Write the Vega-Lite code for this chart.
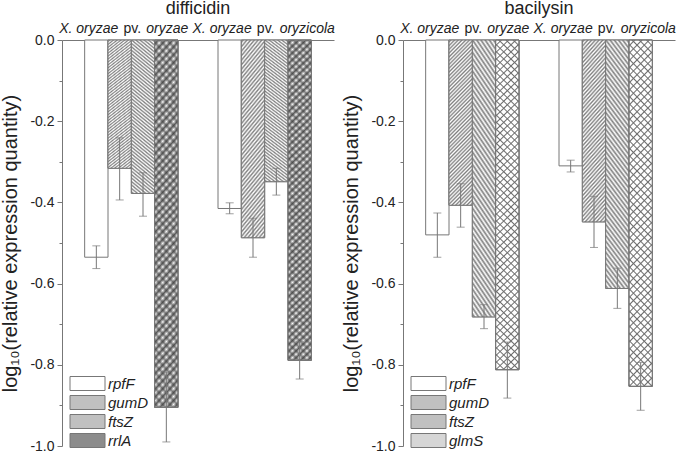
{
  "$schema": "https://vega.github.io/schema/vega-lite/v6.json",
  "background": "white",
  "padding": {"left": 0, "top": 0, "right": 5, "bottom": 0},
  "spacing": 6,
  "datasets": {
    "bars": [
      {"panel": "difficidin", "group": "oryzae", "gene": "rpfF", "value": -0.535, "lo": -0.507, "hi": -0.563},
      {"panel": "difficidin", "group": "oryzae", "gene": "gumD", "value": -0.316, "lo": -0.241, "hi": -0.394},
      {"panel": "difficidin", "group": "oryzae", "gene": "ftsZ", "value": -0.378, "lo": -0.327, "hi": -0.434},
      {"panel": "difficidin", "group": "oryzae", "gene": "rrlA", "value": -0.905, "lo": -0.818, "hi": -0.99},
      {"panel": "difficidin", "group": "oryzicola", "gene": "rpfF", "value": -0.415, "lo": -0.401, "hi": -0.428},
      {"panel": "difficidin", "group": "oryzicola", "gene": "gumD", "value": -0.487, "lo": -0.439, "hi": -0.535},
      {"panel": "difficidin", "group": "oryzicola", "gene": "ftsZ", "value": -0.349, "lo": -0.316, "hi": -0.382},
      {"panel": "difficidin", "group": "oryzicola", "gene": "rrlA", "value": -0.789, "lo": -0.742, "hi": -0.835},
      {"panel": "bacilysin", "group": "oryzae", "gene": "rpfF", "value": -0.48, "lo": -0.426, "hi": -0.535},
      {"panel": "bacilysin", "group": "oryzae", "gene": "gumD", "value": -0.407, "lo": -0.354, "hi": -0.461},
      {"panel": "bacilysin", "group": "oryzae", "gene": "ftsZ", "value": -0.682, "lo": -0.652, "hi": -0.711},
      {"panel": "bacilysin", "group": "oryzae", "gene": "glmS", "value": -0.812, "lo": -0.744, "hi": -0.882},
      {"panel": "bacilysin", "group": "oryzicola", "gene": "rpfF", "value": -0.31, "lo": -0.296, "hi": -0.325},
      {"panel": "bacilysin", "group": "oryzicola", "gene": "gumD", "value": -0.448, "lo": -0.385, "hi": -0.511},
      {"panel": "bacilysin", "group": "oryzicola", "gene": "ftsZ", "value": -0.612, "lo": -0.562, "hi": -0.661},
      {"panel": "bacilysin", "group": "oryzicola", "gene": "glmS", "value": -0.853, "lo": -0.794, "hi": -0.912}
    ],
    "labels": [
      {"group": "oryzae", "genus": "X. oryzae", "pv": "pv.", "species": "oryzae"},
      {"group": "oryzicola", "genus": "X. oryzae", "pv": "pv.", "species": "oryzicola"}
    ]
  },
  "config": {
    "view": {"stroke": null},
    "font": "Liberation Sans",
    "axis": {"domainColor": "#777", "tickColor": "#777", "labelColor": "#222", "titleColor": "#222", "labelFont": "Liberation Sans", "titleFont": "Liberation Sans"},
    "title": {"font": "Liberation Sans", "fontWeight": "normal", "fontSize": 18, "color": "#222", "offset": 0}
  },
  "resolve": {"scale": {"fill": "independent", "y": "independent", "x": "independent", "xOffset": "independent"}, "legend": {"fill": "independent"}},
  "hconcat": [
    {
      "title": "difficidin",
      "width": 272,
      "height": 406,
      "data": {"name": "bars"},
      "transform": [{"filter": "datum.panel === 'difficidin'"}],
      "encoding": {
        "x": {"field": "group", "type": "nominal", "sort": ["oryzae", "oryzicola"], "scale": {"paddingInner": 0.3, "paddingOuter": 0.17},
          "axis": {"orient": "top", "labels": false, "ticks": false, "title": null}},
        "xOffset": {"field": "gene", "type": "nominal", "sort": ["rpfF", "gumD", "ftsZ", "rrlA"], "scale": {"paddingInner": 0, "paddingOuter": 0}}
      },
      "layer": [
        {
          "mark": {"type": "bar", "stroke": "#777", "strokeWidth": 1},
          "encoding": {
            "y": {"field": "value", "type": "quantitative", "scale": {"domain": [-1, 0], "nice": false, "zero": false},
              "axis": {"values": [-1, -0.9, -0.8, -0.7, -0.6, -0.5, -0.4, -0.3, -0.2, -0.1, 0], "grid": false,
                "labelExpr": "abs(round(datum.value*10)) % 2 === 0 ? replace(format(datum.value, '.1f'), '\u2212', '-') : ''",
                "tickSize": {"condition": {"test": "abs(round(datum.value*10)) % 2 === 0", "value": 5}, "value": 3},
                "labelFontSize": 14, "labelPadding": 3, "title": "log\u2081\u2080(relative expression quantity)", "titleFontSize": 20, "titleFontWeight": "normal", "titlePadding": 9}},
            "fill": {"field": "gene", "type": "nominal", "scale": {"domain": ["rpfF", "gumD", "ftsZ", "rrlA"], "range": ["#ffffff", "#c0c0c0", "#c0c0c0", "#8c8c8c"]},
              "legend": {"orient": "none", "legendX": 18, "legendY": 336, "padding": 0, "title": null, "symbolType": "M-2.5,-1H2.5V1H-2.5Z", "symbolSize": 196, "symbolStrokeColor": "#777", "symbolStrokeWidth": 1, "labelFontStyle": "italic", "labelFontSize": 15, "labelColor": "#222", "labelOffset": 13, "rowPadding": 0}}
          }
        },
        {
          "transform": [{"filter": "datum.gene === 'gumD'"}],
          "mark": {"type": "bar", "stroke": "#777", "strokeWidth": 1, "fill": {"gradient": "linear", "x1": 0, "y1": 0, "x2": 0.16, "y2": 1.12, "stops": [{"offset":0,"color":"#ffffff"},{"offset":0.01,"color":"#808080"},{"offset":0.02,"color":"#ffffff"},{"offset":0.03,"color":"#808080"},{"offset":0.04,"color":"#ffffff"},{"offset":0.05,"color":"#808080"},{"offset":0.06,"color":"#ffffff"},{"offset":0.07,"color":"#808080"},{"offset":0.08,"color":"#ffffff"},{"offset":0.09,"color":"#808080"},{"offset":0.1,"color":"#ffffff"},{"offset":0.11,"color":"#808080"},{"offset":0.12,"color":"#ffffff"},{"offset":0.13,"color":"#808080"},{"offset":0.14,"color":"#ffffff"},{"offset":0.15,"color":"#808080"},{"offset":0.16,"color":"#ffffff"},{"offset":0.17,"color":"#808080"},{"offset":0.18,"color":"#ffffff"},{"offset":0.19,"color":"#808080"},{"offset":0.2,"color":"#ffffff"},{"offset":0.21,"color":"#808080"},{"offset":0.22,"color":"#ffffff"},{"offset":0.23,"color":"#808080"},{"offset":0.24,"color":"#ffffff"},{"offset":0.25,"color":"#808080"},{"offset":0.26,"color":"#ffffff"},{"offset":0.27,"color":"#808080"},{"offset":0.28,"color":"#ffffff"},{"offset":0.29,"color":"#808080"},{"offset":0.3,"color":"#ffffff"},{"offset":0.31,"color":"#808080"},{"offset":0.32,"color":"#ffffff"},{"offset":0.33,"color":"#808080"},{"offset":0.34,"color":"#ffffff"},{"offset":0.35,"color":"#808080"},{"offset":0.36,"color":"#ffffff"},{"offset":0.37,"color":"#808080"},{"offset":0.38,"color":"#ffffff"},{"offset":0.39,"color":"#808080"},{"offset":0.4,"color":"#ffffff"},{"offset":0.41,"color":"#808080"},{"offset":0.42,"color":"#ffffff"},{"offset":0.43,"color":"#808080"},{"offset":0.44,"color":"#ffffff"},{"offset":0.45,"color":"#808080"},{"offset":0.46,"color":"#ffffff"},{"offset":0.47,"color":"#808080"},{"offset":0.48,"color":"#ffffff"},{"offset":0.49,"color":"#808080"},{"offset":0.5,"color":"#ffffff"},{"offset":0.51,"color":"#808080"},{"offset":0.52,"color":"#ffffff"},{"offset":0.53,"color":"#808080"},{"offset":0.54,"color":"#ffffff"},{"offset":0.55,"color":"#808080"},{"offset":0.56,"color":"#ffffff"},{"offset":0.57,"color":"#808080"},{"offset":0.58,"color":"#ffffff"},{"offset":0.59,"color":"#808080"},{"offset":0.6,"color":"#ffffff"},{"offset":0.61,"color":"#808080"},{"offset":0.62,"color":"#ffffff"},{"offset":0.63,"color":"#808080"},{"offset":0.64,"color":"#ffffff"},{"offset":0.65,"color":"#808080"},{"offset":0.66,"color":"#ffffff"},{"offset":0.67,"color":"#808080"},{"offset":0.68,"color":"#ffffff"},{"offset":0.69,"color":"#808080"},{"offset":0.7,"color":"#ffffff"},{"offset":0.71,"color":"#808080"},{"offset":0.72,"color":"#ffffff"},{"offset":0.73,"color":"#808080"},{"offset":0.74,"color":"#ffffff"},{"offset":0.75,"color":"#808080"},{"offset":0.76,"color":"#ffffff"},{"offset":0.77,"color":"#808080"},{"offset":0.78,"color":"#ffffff"},{"offset":0.79,"color":"#808080"},{"offset":0.8,"color":"#ffffff"},{"offset":0.81,"color":"#808080"},{"offset":0.82,"color":"#ffffff"},{"offset":0.83,"color":"#808080"},{"offset":0.84,"color":"#ffffff"},{"offset":0.85,"color":"#808080"},{"offset":0.86,"color":"#ffffff"},{"offset":0.87,"color":"#808080"},{"offset":0.88,"color":"#ffffff"},{"offset":0.89,"color":"#808080"},{"offset":0.9,"color":"#ffffff"},{"offset":0.91,"color":"#808080"},{"offset":0.92,"color":"#ffffff"},{"offset":0.93,"color":"#808080"},{"offset":0.94,"color":"#ffffff"},{"offset":0.95,"color":"#808080"},{"offset":0.96,"color":"#ffffff"},{"offset":0.97,"color":"#808080"},{"offset":0.98,"color":"#ffffff"},{"offset":0.99,"color":"#808080"},{"offset":1,"color":"#ffffff"}]}},
          "encoding": {"y": {"field": "value", "type": "quantitative"}}
        },
        {
          "transform": [{"filter": "datum.gene === 'ftsZ'"}],
          "mark": {"type": "bar", "stroke": "#777", "strokeWidth": 1, "fill": {"gradient": "linear", "x1": 1, "y1": 0, "x2": 0.8615, "y2": 1.108, "stops": [{"offset":0,"color":"#ffffff"},{"offset":0.01,"color":"#808080"},{"offset":0.02,"color":"#ffffff"},{"offset":0.03,"color":"#808080"},{"offset":0.04,"color":"#ffffff"},{"offset":0.05,"color":"#808080"},{"offset":0.06,"color":"#ffffff"},{"offset":0.07,"color":"#808080"},{"offset":0.08,"color":"#ffffff"},{"offset":0.09,"color":"#808080"},{"offset":0.1,"color":"#ffffff"},{"offset":0.11,"color":"#808080"},{"offset":0.12,"color":"#ffffff"},{"offset":0.13,"color":"#808080"},{"offset":0.14,"color":"#ffffff"},{"offset":0.15,"color":"#808080"},{"offset":0.16,"color":"#ffffff"},{"offset":0.17,"color":"#808080"},{"offset":0.18,"color":"#ffffff"},{"offset":0.19,"color":"#808080"},{"offset":0.2,"color":"#ffffff"},{"offset":0.21,"color":"#808080"},{"offset":0.22,"color":"#ffffff"},{"offset":0.23,"color":"#808080"},{"offset":0.24,"color":"#ffffff"},{"offset":0.25,"color":"#808080"},{"offset":0.26,"color":"#ffffff"},{"offset":0.27,"color":"#808080"},{"offset":0.28,"color":"#ffffff"},{"offset":0.29,"color":"#808080"},{"offset":0.3,"color":"#ffffff"},{"offset":0.31,"color":"#808080"},{"offset":0.32,"color":"#ffffff"},{"offset":0.33,"color":"#808080"},{"offset":0.34,"color":"#ffffff"},{"offset":0.35,"color":"#808080"},{"offset":0.36,"color":"#ffffff"},{"offset":0.37,"color":"#808080"},{"offset":0.38,"color":"#ffffff"},{"offset":0.39,"color":"#808080"},{"offset":0.4,"color":"#ffffff"},{"offset":0.41,"color":"#808080"},{"offset":0.42,"color":"#ffffff"},{"offset":0.43,"color":"#808080"},{"offset":0.44,"color":"#ffffff"},{"offset":0.45,"color":"#808080"},{"offset":0.46,"color":"#ffffff"},{"offset":0.47,"color":"#808080"},{"offset":0.48,"color":"#ffffff"},{"offset":0.49,"color":"#808080"},{"offset":0.5,"color":"#ffffff"},{"offset":0.51,"color":"#808080"},{"offset":0.52,"color":"#ffffff"},{"offset":0.53,"color":"#808080"},{"offset":0.54,"color":"#ffffff"},{"offset":0.55,"color":"#808080"},{"offset":0.56,"color":"#ffffff"},{"offset":0.57,"color":"#808080"},{"offset":0.58,"color":"#ffffff"},{"offset":0.59,"color":"#808080"},{"offset":0.6,"color":"#ffffff"},{"offset":0.61,"color":"#808080"},{"offset":0.62,"color":"#ffffff"},{"offset":0.63,"color":"#808080"},{"offset":0.64,"color":"#ffffff"},{"offset":0.65,"color":"#808080"},{"offset":0.66,"color":"#ffffff"},{"offset":0.67,"color":"#808080"},{"offset":0.68,"color":"#ffffff"},{"offset":0.69,"color":"#808080"},{"offset":0.7,"color":"#ffffff"},{"offset":0.71,"color":"#808080"},{"offset":0.72,"color":"#ffffff"},{"offset":0.73,"color":"#808080"},{"offset":0.74,"color":"#ffffff"},{"offset":0.75,"color":"#808080"},{"offset":0.76,"color":"#ffffff"},{"offset":0.77,"color":"#808080"},{"offset":0.78,"color":"#ffffff"},{"offset":0.79,"color":"#808080"},{"offset":0.8,"color":"#ffffff"},{"offset":0.81,"color":"#808080"},{"offset":0.82,"color":"#ffffff"},{"offset":0.83,"color":"#808080"},{"offset":0.84,"color":"#ffffff"},{"offset":0.85,"color":"#808080"},{"offset":0.86,"color":"#ffffff"},{"offset":0.87,"color":"#808080"},{"offset":0.88,"color":"#ffffff"},{"offset":0.89,"color":"#808080"},{"offset":0.9,"color":"#ffffff"},{"offset":0.91,"color":"#808080"},{"offset":0.92,"color":"#ffffff"},{"offset":0.93,"color":"#808080"},{"offset":0.94,"color":"#ffffff"},{"offset":0.95,"color":"#808080"},{"offset":0.96,"color":"#ffffff"},{"offset":0.97,"color":"#808080"},{"offset":0.98,"color":"#ffffff"},{"offset":0.99,"color":"#808080"},{"offset":1,"color":"#ffffff"}]}},
          "encoding": {"y": {"field": "value", "type": "quantitative"}}
        },
        {
          "transform": [{"filter": "datum.gene === 'rrlA'"}],
          "mark": {"type": "bar", "stroke": "#777", "strokeWidth": 1, "fill": {"gradient": "linear", "x1": 0, "y1": 0, "x2": 0.0734, "y2": 1.064, "stops": [{"offset":0,"color":"#ffffff"},{"offset":0.01,"color":"#606060"},{"offset":0.02,"color":"#ffffff"},{"offset":0.03,"color":"#606060"},{"offset":0.04,"color":"#ffffff"},{"offset":0.05,"color":"#606060"},{"offset":0.06,"color":"#ffffff"},{"offset":0.07,"color":"#606060"},{"offset":0.08,"color":"#ffffff"},{"offset":0.09,"color":"#606060"},{"offset":0.1,"color":"#ffffff"},{"offset":0.11,"color":"#606060"},{"offset":0.12,"color":"#ffffff"},{"offset":0.13,"color":"#606060"},{"offset":0.14,"color":"#ffffff"},{"offset":0.15,"color":"#606060"},{"offset":0.16,"color":"#ffffff"},{"offset":0.17,"color":"#606060"},{"offset":0.18,"color":"#ffffff"},{"offset":0.19,"color":"#606060"},{"offset":0.2,"color":"#ffffff"},{"offset":0.21,"color":"#606060"},{"offset":0.22,"color":"#ffffff"},{"offset":0.23,"color":"#606060"},{"offset":0.24,"color":"#ffffff"},{"offset":0.25,"color":"#606060"},{"offset":0.26,"color":"#ffffff"},{"offset":0.27,"color":"#606060"},{"offset":0.28,"color":"#ffffff"},{"offset":0.29,"color":"#606060"},{"offset":0.3,"color":"#ffffff"},{"offset":0.31,"color":"#606060"},{"offset":0.32,"color":"#ffffff"},{"offset":0.33,"color":"#606060"},{"offset":0.34,"color":"#ffffff"},{"offset":0.35,"color":"#606060"},{"offset":0.36,"color":"#ffffff"},{"offset":0.37,"color":"#606060"},{"offset":0.38,"color":"#ffffff"},{"offset":0.39,"color":"#606060"},{"offset":0.4,"color":"#ffffff"},{"offset":0.41,"color":"#606060"},{"offset":0.42,"color":"#ffffff"},{"offset":0.43,"color":"#606060"},{"offset":0.44,"color":"#ffffff"},{"offset":0.45,"color":"#606060"},{"offset":0.46,"color":"#ffffff"},{"offset":0.47,"color":"#606060"},{"offset":0.48,"color":"#ffffff"},{"offset":0.49,"color":"#606060"},{"offset":0.5,"color":"#ffffff"},{"offset":0.51,"color":"#606060"},{"offset":0.52,"color":"#ffffff"},{"offset":0.53,"color":"#606060"},{"offset":0.54,"color":"#ffffff"},{"offset":0.55,"color":"#606060"},{"offset":0.56,"color":"#ffffff"},{"offset":0.57,"color":"#606060"},{"offset":0.58,"color":"#ffffff"},{"offset":0.59,"color":"#606060"},{"offset":0.6,"color":"#ffffff"},{"offset":0.61,"color":"#606060"},{"offset":0.62,"color":"#ffffff"},{"offset":0.63,"color":"#606060"},{"offset":0.64,"color":"#ffffff"},{"offset":0.65,"color":"#606060"},{"offset":0.66,"color":"#ffffff"},{"offset":0.67,"color":"#606060"},{"offset":0.68,"color":"#ffffff"},{"offset":0.69,"color":"#606060"},{"offset":0.7,"color":"#ffffff"},{"offset":0.71,"color":"#606060"},{"offset":0.72,"color":"#ffffff"},{"offset":0.73,"color":"#606060"},{"offset":0.74,"color":"#ffffff"},{"offset":0.75,"color":"#606060"},{"offset":0.76,"color":"#ffffff"},{"offset":0.77,"color":"#606060"},{"offset":0.78,"color":"#ffffff"},{"offset":0.79,"color":"#606060"},{"offset":0.8,"color":"#ffffff"},{"offset":0.81,"color":"#606060"},{"offset":0.82,"color":"#ffffff"},{"offset":0.83,"color":"#606060"},{"offset":0.84,"color":"#ffffff"},{"offset":0.85,"color":"#606060"},{"offset":0.86,"color":"#ffffff"},{"offset":0.87,"color":"#606060"},{"offset":0.88,"color":"#ffffff"},{"offset":0.89,"color":"#606060"},{"offset":0.9,"color":"#ffffff"},{"offset":0.91,"color":"#606060"},{"offset":0.92,"color":"#ffffff"},{"offset":0.93,"color":"#606060"},{"offset":0.94,"color":"#ffffff"},{"offset":0.95,"color":"#606060"},{"offset":0.96,"color":"#ffffff"},{"offset":0.97,"color":"#606060"},{"offset":0.98,"color":"#ffffff"},{"offset":0.99,"color":"#606060"},{"offset":1,"color":"#ffffff"}]}},
          "encoding": {"y": {"field": "value", "type": "quantitative"}}
        },
        {
          "transform": [{"filter": "datum.gene === 'rrlA'"}],
          "mark": {"type": "bar", "stroke": "#777", "strokeWidth": 1, "fill": {"gradient": "linear", "x1": 1, "y1": 0, "x2": 0.9266, "y2": 1.064, "stops": [{"offset":0,"color":"rgba(60,60,60,0)"},{"offset":0.01,"color":"rgba(60,60,60,0.6)"},{"offset":0.02,"color":"rgba(60,60,60,0)"},{"offset":0.03,"color":"rgba(60,60,60,0.6)"},{"offset":0.04,"color":"rgba(60,60,60,0)"},{"offset":0.05,"color":"rgba(60,60,60,0.6)"},{"offset":0.06,"color":"rgba(60,60,60,0)"},{"offset":0.07,"color":"rgba(60,60,60,0.6)"},{"offset":0.08,"color":"rgba(60,60,60,0)"},{"offset":0.09,"color":"rgba(60,60,60,0.6)"},{"offset":0.1,"color":"rgba(60,60,60,0)"},{"offset":0.11,"color":"rgba(60,60,60,0.6)"},{"offset":0.12,"color":"rgba(60,60,60,0)"},{"offset":0.13,"color":"rgba(60,60,60,0.6)"},{"offset":0.14,"color":"rgba(60,60,60,0)"},{"offset":0.15,"color":"rgba(60,60,60,0.6)"},{"offset":0.16,"color":"rgba(60,60,60,0)"},{"offset":0.17,"color":"rgba(60,60,60,0.6)"},{"offset":0.18,"color":"rgba(60,60,60,0)"},{"offset":0.19,"color":"rgba(60,60,60,0.6)"},{"offset":0.2,"color":"rgba(60,60,60,0)"},{"offset":0.21,"color":"rgba(60,60,60,0.6)"},{"offset":0.22,"color":"rgba(60,60,60,0)"},{"offset":0.23,"color":"rgba(60,60,60,0.6)"},{"offset":0.24,"color":"rgba(60,60,60,0)"},{"offset":0.25,"color":"rgba(60,60,60,0.6)"},{"offset":0.26,"color":"rgba(60,60,60,0)"},{"offset":0.27,"color":"rgba(60,60,60,0.6)"},{"offset":0.28,"color":"rgba(60,60,60,0)"},{"offset":0.29,"color":"rgba(60,60,60,0.6)"},{"offset":0.3,"color":"rgba(60,60,60,0)"},{"offset":0.31,"color":"rgba(60,60,60,0.6)"},{"offset":0.32,"color":"rgba(60,60,60,0)"},{"offset":0.33,"color":"rgba(60,60,60,0.6)"},{"offset":0.34,"color":"rgba(60,60,60,0)"},{"offset":0.35,"color":"rgba(60,60,60,0.6)"},{"offset":0.36,"color":"rgba(60,60,60,0)"},{"offset":0.37,"color":"rgba(60,60,60,0.6)"},{"offset":0.38,"color":"rgba(60,60,60,0)"},{"offset":0.39,"color":"rgba(60,60,60,0.6)"},{"offset":0.4,"color":"rgba(60,60,60,0)"},{"offset":0.41,"color":"rgba(60,60,60,0.6)"},{"offset":0.42,"color":"rgba(60,60,60,0)"},{"offset":0.43,"color":"rgba(60,60,60,0.6)"},{"offset":0.44,"color":"rgba(60,60,60,0)"},{"offset":0.45,"color":"rgba(60,60,60,0.6)"},{"offset":0.46,"color":"rgba(60,60,60,0)"},{"offset":0.47,"color":"rgba(60,60,60,0.6)"},{"offset":0.48,"color":"rgba(60,60,60,0)"},{"offset":0.49,"color":"rgba(60,60,60,0.6)"},{"offset":0.5,"color":"rgba(60,60,60,0)"},{"offset":0.51,"color":"rgba(60,60,60,0.6)"},{"offset":0.52,"color":"rgba(60,60,60,0)"},{"offset":0.53,"color":"rgba(60,60,60,0.6)"},{"offset":0.54,"color":"rgba(60,60,60,0)"},{"offset":0.55,"color":"rgba(60,60,60,0.6)"},{"offset":0.56,"color":"rgba(60,60,60,0)"},{"offset":0.57,"color":"rgba(60,60,60,0.6)"},{"offset":0.58,"color":"rgba(60,60,60,0)"},{"offset":0.59,"color":"rgba(60,60,60,0.6)"},{"offset":0.6,"color":"rgba(60,60,60,0)"},{"offset":0.61,"color":"rgba(60,60,60,0.6)"},{"offset":0.62,"color":"rgba(60,60,60,0)"},{"offset":0.63,"color":"rgba(60,60,60,0.6)"},{"offset":0.64,"color":"rgba(60,60,60,0)"},{"offset":0.65,"color":"rgba(60,60,60,0.6)"},{"offset":0.66,"color":"rgba(60,60,60,0)"},{"offset":0.67,"color":"rgba(60,60,60,0.6)"},{"offset":0.68,"color":"rgba(60,60,60,0)"},{"offset":0.69,"color":"rgba(60,60,60,0.6)"},{"offset":0.7,"color":"rgba(60,60,60,0)"},{"offset":0.71,"color":"rgba(60,60,60,0.6)"},{"offset":0.72,"color":"rgba(60,60,60,0)"},{"offset":0.73,"color":"rgba(60,60,60,0.6)"},{"offset":0.74,"color":"rgba(60,60,60,0)"},{"offset":0.75,"color":"rgba(60,60,60,0.6)"},{"offset":0.76,"color":"rgba(60,60,60,0)"},{"offset":0.77,"color":"rgba(60,60,60,0.6)"},{"offset":0.78,"color":"rgba(60,60,60,0)"},{"offset":0.79,"color":"rgba(60,60,60,0.6)"},{"offset":0.8,"color":"rgba(60,60,60,0)"},{"offset":0.81,"color":"rgba(60,60,60,0.6)"},{"offset":0.82,"color":"rgba(60,60,60,0)"},{"offset":0.83,"color":"rgba(60,60,60,0.6)"},{"offset":0.84,"color":"rgba(60,60,60,0)"},{"offset":0.85,"color":"rgba(60,60,60,0.6)"},{"offset":0.86,"color":"rgba(60,60,60,0)"},{"offset":0.87,"color":"rgba(60,60,60,0.6)"},{"offset":0.88,"color":"rgba(60,60,60,0)"},{"offset":0.89,"color":"rgba(60,60,60,0.6)"},{"offset":0.9,"color":"rgba(60,60,60,0)"},{"offset":0.91,"color":"rgba(60,60,60,0.6)"},{"offset":0.92,"color":"rgba(60,60,60,0)"},{"offset":0.93,"color":"rgba(60,60,60,0.6)"},{"offset":0.94,"color":"rgba(60,60,60,0)"},{"offset":0.95,"color":"rgba(60,60,60,0.6)"},{"offset":0.96,"color":"rgba(60,60,60,0)"},{"offset":0.97,"color":"rgba(60,60,60,0.6)"},{"offset":0.98,"color":"rgba(60,60,60,0)"},{"offset":0.99,"color":"rgba(60,60,60,0.6)"},{"offset":1,"color":"rgba(60,60,60,0)"}]}},
          "encoding": {"y": {"field": "value", "type": "quantitative"}}
        },
        {
          "mark": {"type": "rule", "color": "#777", "strokeWidth": 1},
          "encoding": {"y": {"field": "lo", "type": "quantitative"}, "y2": {"field": "hi"}}
        },
        {
          "mark": {"type": "tick", "color": "#777", "size": 8, "thickness": 1},
          "encoding": {"y": {"field": "lo", "type": "quantitative"}}
        },
        {
          "mark": {"type": "tick", "color": "#777", "size": 8, "thickness": 1},
          "encoding": {"y": {"field": "hi", "type": "quantitative"}}
        },
        {
          "data": {"name": "labels"},
          "mark": {"type": "text", "font": "Liberation Sans", "fontSize": 14, "fontStyle": "italic", "align": "right", "baseline": "alphabetic", "dy": -7, "dx": -13, "color": "#222"},
          "encoding": {"x": {"field": "group", "type": "nominal"}, "xOffset": null, "y": {"datum": 0, "type": "quantitative"}, "text": {"field": "genus"}}
        },
        {
          "data": {"name": "labels"},
          "mark": {"type": "text", "font": "Liberation Sans", "fontSize": 14, "align": "center", "baseline": "alphabetic", "dy": -7, "dx": 1, "color": "#222"},
          "encoding": {"x": {"field": "group", "type": "nominal"}, "xOffset": null, "y": {"datum": 0, "type": "quantitative"}, "text": {"field": "pv"}}
        },
        {
          "data": {"name": "labels"},
          "mark": {"type": "text", "font": "Liberation Sans", "fontSize": 14, "fontStyle": "italic", "align": "left", "baseline": "alphabetic", "dy": -7, "dx": 15, "color": "#222"},
          "encoding": {"x": {"field": "group", "type": "nominal"}, "xOffset": null, "y": {"datum": 0, "type": "quantitative"}, "text": {"field": "species"}}
        }
      ]
    },
    {
      "title": "bacilysin",
      "width": 272,
      "height": 406,
      "data": {"name": "bars"},
      "transform": [{"filter": "datum.panel === 'bacilysin'"}],
      "encoding": {
        "x": {"field": "group", "type": "nominal", "sort": ["oryzae", "oryzicola"], "scale": {"paddingInner": 0.3, "paddingOuter": 0.17},
          "axis": {"orient": "top", "labels": false, "ticks": false, "title": null}},
        "xOffset": {"field": "gene", "type": "nominal", "sort": ["rpfF", "gumD", "ftsZ", "glmS"], "scale": {"paddingInner": 0, "paddingOuter": 0}}
      },
      "layer": [
        {
          "mark": {"type": "bar", "stroke": "#777", "strokeWidth": 1},
          "encoding": {
            "y": {"field": "value", "type": "quantitative", "scale": {"domain": [-1, 0], "nice": false, "zero": false},
              "axis": {"values": [-1, -0.9, -0.8, -0.7, -0.6, -0.5, -0.4, -0.3, -0.2, -0.1, 0], "grid": false,
                "labelExpr": "abs(round(datum.value*10)) % 2 === 0 ? replace(format(datum.value, '.1f'), '\u2212', '-') : ''",
                "tickSize": {"condition": {"test": "abs(round(datum.value*10)) % 2 === 0", "value": 5}, "value": 3},
                "labelFontSize": 14, "labelPadding": 3, "title": "log\u2081\u2080(relative expression quantity)", "titleFontSize": 20, "titleFontWeight": "normal", "titlePadding": 9}},
            "fill": {"field": "gene", "type": "nominal", "scale": {"domain": ["rpfF", "gumD", "ftsZ", "glmS"], "range": ["#ffffff", "#c0c0c0", "#c0c0c0", "#d6d6d6"]},
              "legend": {"orient": "none", "legendX": 18, "legendY": 336, "padding": 0, "title": null, "symbolType": "M-2.5,-1H2.5V1H-2.5Z", "symbolSize": 196, "symbolStrokeColor": "#777", "symbolStrokeWidth": 1, "labelFontStyle": "italic", "labelFontSize": 15, "labelColor": "#222", "labelOffset": 13, "rowPadding": 0}}
          }
        },
        {
          "transform": [{"filter": "datum.gene === 'gumD'"}],
          "mark": {"type": "bar", "stroke": "#777", "strokeWidth": 1, "fill": {"gradient": "linear", "x1": 0, "y1": 0, "x2": 0.16, "y2": 1.12, "stops": [{"offset":0,"color":"#ffffff"},{"offset":0.01,"color":"#808080"},{"offset":0.02,"color":"#ffffff"},{"offset":0.03,"color":"#808080"},{"offset":0.04,"color":"#ffffff"},{"offset":0.05,"color":"#808080"},{"offset":0.06,"color":"#ffffff"},{"offset":0.07,"color":"#808080"},{"offset":0.08,"color":"#ffffff"},{"offset":0.09,"color":"#808080"},{"offset":0.1,"color":"#ffffff"},{"offset":0.11,"color":"#808080"},{"offset":0.12,"color":"#ffffff"},{"offset":0.13,"color":"#808080"},{"offset":0.14,"color":"#ffffff"},{"offset":0.15,"color":"#808080"},{"offset":0.16,"color":"#ffffff"},{"offset":0.17,"color":"#808080"},{"offset":0.18,"color":"#ffffff"},{"offset":0.19,"color":"#808080"},{"offset":0.2,"color":"#ffffff"},{"offset":0.21,"color":"#808080"},{"offset":0.22,"color":"#ffffff"},{"offset":0.23,"color":"#808080"},{"offset":0.24,"color":"#ffffff"},{"offset":0.25,"color":"#808080"},{"offset":0.26,"color":"#ffffff"},{"offset":0.27,"color":"#808080"},{"offset":0.28,"color":"#ffffff"},{"offset":0.29,"color":"#808080"},{"offset":0.3,"color":"#ffffff"},{"offset":0.31,"color":"#808080"},{"offset":0.32,"color":"#ffffff"},{"offset":0.33,"color":"#808080"},{"offset":0.34,"color":"#ffffff"},{"offset":0.35,"color":"#808080"},{"offset":0.36,"color":"#ffffff"},{"offset":0.37,"color":"#808080"},{"offset":0.38,"color":"#ffffff"},{"offset":0.39,"color":"#808080"},{"offset":0.4,"color":"#ffffff"},{"offset":0.41,"color":"#808080"},{"offset":0.42,"color":"#ffffff"},{"offset":0.43,"color":"#808080"},{"offset":0.44,"color":"#ffffff"},{"offset":0.45,"color":"#808080"},{"offset":0.46,"color":"#ffffff"},{"offset":0.47,"color":"#808080"},{"offset":0.48,"color":"#ffffff"},{"offset":0.49,"color":"#808080"},{"offset":0.5,"color":"#ffffff"},{"offset":0.51,"color":"#808080"},{"offset":0.52,"color":"#ffffff"},{"offset":0.53,"color":"#808080"},{"offset":0.54,"color":"#ffffff"},{"offset":0.55,"color":"#808080"},{"offset":0.56,"color":"#ffffff"},{"offset":0.57,"color":"#808080"},{"offset":0.58,"color":"#ffffff"},{"offset":0.59,"color":"#808080"},{"offset":0.6,"color":"#ffffff"},{"offset":0.61,"color":"#808080"},{"offset":0.62,"color":"#ffffff"},{"offset":0.63,"color":"#808080"},{"offset":0.64,"color":"#ffffff"},{"offset":0.65,"color":"#808080"},{"offset":0.66,"color":"#ffffff"},{"offset":0.67,"color":"#808080"},{"offset":0.68,"color":"#ffffff"},{"offset":0.69,"color":"#808080"},{"offset":0.7,"color":"#ffffff"},{"offset":0.71,"color":"#808080"},{"offset":0.72,"color":"#ffffff"},{"offset":0.73,"color":"#808080"},{"offset":0.74,"color":"#ffffff"},{"offset":0.75,"color":"#808080"},{"offset":0.76,"color":"#ffffff"},{"offset":0.77,"color":"#808080"},{"offset":0.78,"color":"#ffffff"},{"offset":0.79,"color":"#808080"},{"offset":0.8,"color":"#ffffff"},{"offset":0.81,"color":"#808080"},{"offset":0.82,"color":"#ffffff"},{"offset":0.83,"color":"#808080"},{"offset":0.84,"color":"#ffffff"},{"offset":0.85,"color":"#808080"},{"offset":0.86,"color":"#ffffff"},{"offset":0.87,"color":"#808080"},{"offset":0.88,"color":"#ffffff"},{"offset":0.89,"color":"#808080"},{"offset":0.9,"color":"#ffffff"},{"offset":0.91,"color":"#808080"},{"offset":0.92,"color":"#ffffff"},{"offset":0.93,"color":"#808080"},{"offset":0.94,"color":"#ffffff"},{"offset":0.95,"color":"#808080"},{"offset":0.96,"color":"#ffffff"},{"offset":0.97,"color":"#808080"},{"offset":0.98,"color":"#ffffff"},{"offset":0.99,"color":"#808080"},{"offset":1,"color":"#ffffff"}]}},
          "encoding": {"y": {"field": "value", "type": "quantitative"}}
        },
        {
          "transform": [{"filter": "datum.gene === 'ftsZ'"}],
          "mark": {"type": "bar", "stroke": "#777", "strokeWidth": 1, "fill": {"gradient": "linear", "x1": 1, "y1": 0, "x2": 0.8615, "y2": 1.108, "stops": [{"offset":0,"color":"#ffffff"},{"offset":0.01,"color":"#808080"},{"offset":0.02,"color":"#ffffff"},{"offset":0.03,"color":"#808080"},{"offset":0.04,"color":"#ffffff"},{"offset":0.05,"color":"#808080"},{"offset":0.06,"color":"#ffffff"},{"offset":0.07,"color":"#808080"},{"offset":0.08,"color":"#ffffff"},{"offset":0.09,"color":"#808080"},{"offset":0.1,"color":"#ffffff"},{"offset":0.11,"color":"#808080"},{"offset":0.12,"color":"#ffffff"},{"offset":0.13,"color":"#808080"},{"offset":0.14,"color":"#ffffff"},{"offset":0.15,"color":"#808080"},{"offset":0.16,"color":"#ffffff"},{"offset":0.17,"color":"#808080"},{"offset":0.18,"color":"#ffffff"},{"offset":0.19,"color":"#808080"},{"offset":0.2,"color":"#ffffff"},{"offset":0.21,"color":"#808080"},{"offset":0.22,"color":"#ffffff"},{"offset":0.23,"color":"#808080"},{"offset":0.24,"color":"#ffffff"},{"offset":0.25,"color":"#808080"},{"offset":0.26,"color":"#ffffff"},{"offset":0.27,"color":"#808080"},{"offset":0.28,"color":"#ffffff"},{"offset":0.29,"color":"#808080"},{"offset":0.3,"color":"#ffffff"},{"offset":0.31,"color":"#808080"},{"offset":0.32,"color":"#ffffff"},{"offset":0.33,"color":"#808080"},{"offset":0.34,"color":"#ffffff"},{"offset":0.35,"color":"#808080"},{"offset":0.36,"color":"#ffffff"},{"offset":0.37,"color":"#808080"},{"offset":0.38,"color":"#ffffff"},{"offset":0.39,"color":"#808080"},{"offset":0.4,"color":"#ffffff"},{"offset":0.41,"color":"#808080"},{"offset":0.42,"color":"#ffffff"},{"offset":0.43,"color":"#808080"},{"offset":0.44,"color":"#ffffff"},{"offset":0.45,"color":"#808080"},{"offset":0.46,"color":"#ffffff"},{"offset":0.47,"color":"#808080"},{"offset":0.48,"color":"#ffffff"},{"offset":0.49,"color":"#808080"},{"offset":0.5,"color":"#ffffff"},{"offset":0.51,"color":"#808080"},{"offset":0.52,"color":"#ffffff"},{"offset":0.53,"color":"#808080"},{"offset":0.54,"color":"#ffffff"},{"offset":0.55,"color":"#808080"},{"offset":0.56,"color":"#ffffff"},{"offset":0.57,"color":"#808080"},{"offset":0.58,"color":"#ffffff"},{"offset":0.59,"color":"#808080"},{"offset":0.6,"color":"#ffffff"},{"offset":0.61,"color":"#808080"},{"offset":0.62,"color":"#ffffff"},{"offset":0.63,"color":"#808080"},{"offset":0.64,"color":"#ffffff"},{"offset":0.65,"color":"#808080"},{"offset":0.66,"color":"#ffffff"},{"offset":0.67,"color":"#808080"},{"offset":0.68,"color":"#ffffff"},{"offset":0.69,"color":"#808080"},{"offset":0.7,"color":"#ffffff"},{"offset":0.71,"color":"#808080"},{"offset":0.72,"color":"#ffffff"},{"offset":0.73,"color":"#808080"},{"offset":0.74,"color":"#ffffff"},{"offset":0.75,"color":"#808080"},{"offset":0.76,"color":"#ffffff"},{"offset":0.77,"color":"#808080"},{"offset":0.78,"color":"#ffffff"},{"offset":0.79,"color":"#808080"},{"offset":0.8,"color":"#ffffff"},{"offset":0.81,"color":"#808080"},{"offset":0.82,"color":"#ffffff"},{"offset":0.83,"color":"#808080"},{"offset":0.84,"color":"#ffffff"},{"offset":0.85,"color":"#808080"},{"offset":0.86,"color":"#ffffff"},{"offset":0.87,"color":"#808080"},{"offset":0.88,"color":"#ffffff"},{"offset":0.89,"color":"#808080"},{"offset":0.9,"color":"#ffffff"},{"offset":0.91,"color":"#808080"},{"offset":0.92,"color":"#ffffff"},{"offset":0.93,"color":"#808080"},{"offset":0.94,"color":"#ffffff"},{"offset":0.95,"color":"#808080"},{"offset":0.96,"color":"#ffffff"},{"offset":0.97,"color":"#808080"},{"offset":0.98,"color":"#ffffff"},{"offset":0.99,"color":"#808080"},{"offset":1,"color":"#ffffff"}]}},
          "encoding": {"y": {"field": "value", "type": "quantitative"}}
        },
        {
          "transform": [{"filter": "datum.gene === 'glmS'"}],
          "mark": {"type": "bar", "stroke": "#777", "strokeWidth": 1, "fill": {"gradient": "linear", "x1": 0, "y1": 0, "x2": 0.0734, "y2": 1.064, "stops": [{"offset":0,"color":"#ffffff"},{"offset":0.012,"color":"#ffffff"},{"offset":0.016,"color":"#6e6e6e"},{"offset":0.02,"color":"#ffffff"},{"offset":0.032,"color":"#ffffff"},{"offset":0.036,"color":"#6e6e6e"},{"offset":0.04,"color":"#ffffff"},{"offset":0.052,"color":"#ffffff"},{"offset":0.056,"color":"#6e6e6e"},{"offset":0.06,"color":"#ffffff"},{"offset":0.072,"color":"#ffffff"},{"offset":0.076,"color":"#6e6e6e"},{"offset":0.08,"color":"#ffffff"},{"offset":0.092,"color":"#ffffff"},{"offset":0.096,"color":"#6e6e6e"},{"offset":0.1,"color":"#ffffff"},{"offset":0.112,"color":"#ffffff"},{"offset":0.116,"color":"#6e6e6e"},{"offset":0.12,"color":"#ffffff"},{"offset":0.132,"color":"#ffffff"},{"offset":0.136,"color":"#6e6e6e"},{"offset":0.14,"color":"#ffffff"},{"offset":0.152,"color":"#ffffff"},{"offset":0.156,"color":"#6e6e6e"},{"offset":0.16,"color":"#ffffff"},{"offset":0.172,"color":"#ffffff"},{"offset":0.176,"color":"#6e6e6e"},{"offset":0.18,"color":"#ffffff"},{"offset":0.192,"color":"#ffffff"},{"offset":0.196,"color":"#6e6e6e"},{"offset":0.2,"color":"#ffffff"},{"offset":0.212,"color":"#ffffff"},{"offset":0.216,"color":"#6e6e6e"},{"offset":0.22,"color":"#ffffff"},{"offset":0.232,"color":"#ffffff"},{"offset":0.236,"color":"#6e6e6e"},{"offset":0.24,"color":"#ffffff"},{"offset":0.252,"color":"#ffffff"},{"offset":0.256,"color":"#6e6e6e"},{"offset":0.26,"color":"#ffffff"},{"offset":0.272,"color":"#ffffff"},{"offset":0.276,"color":"#6e6e6e"},{"offset":0.28,"color":"#ffffff"},{"offset":0.292,"color":"#ffffff"},{"offset":0.296,"color":"#6e6e6e"},{"offset":0.3,"color":"#ffffff"},{"offset":0.312,"color":"#ffffff"},{"offset":0.316,"color":"#6e6e6e"},{"offset":0.32,"color":"#ffffff"},{"offset":0.332,"color":"#ffffff"},{"offset":0.336,"color":"#6e6e6e"},{"offset":0.34,"color":"#ffffff"},{"offset":0.352,"color":"#ffffff"},{"offset":0.356,"color":"#6e6e6e"},{"offset":0.36,"color":"#ffffff"},{"offset":0.372,"color":"#ffffff"},{"offset":0.376,"color":"#6e6e6e"},{"offset":0.38,"color":"#ffffff"},{"offset":0.392,"color":"#ffffff"},{"offset":0.396,"color":"#6e6e6e"},{"offset":0.4,"color":"#ffffff"},{"offset":0.412,"color":"#ffffff"},{"offset":0.416,"color":"#6e6e6e"},{"offset":0.42,"color":"#ffffff"},{"offset":0.432,"color":"#ffffff"},{"offset":0.436,"color":"#6e6e6e"},{"offset":0.44,"color":"#ffffff"},{"offset":0.452,"color":"#ffffff"},{"offset":0.456,"color":"#6e6e6e"},{"offset":0.46,"color":"#ffffff"},{"offset":0.472,"color":"#ffffff"},{"offset":0.476,"color":"#6e6e6e"},{"offset":0.48,"color":"#ffffff"},{"offset":0.492,"color":"#ffffff"},{"offset":0.496,"color":"#6e6e6e"},{"offset":0.5,"color":"#ffffff"},{"offset":0.512,"color":"#ffffff"},{"offset":0.516,"color":"#6e6e6e"},{"offset":0.52,"color":"#ffffff"},{"offset":0.532,"color":"#ffffff"},{"offset":0.536,"color":"#6e6e6e"},{"offset":0.54,"color":"#ffffff"},{"offset":0.552,"color":"#ffffff"},{"offset":0.556,"color":"#6e6e6e"},{"offset":0.56,"color":"#ffffff"},{"offset":0.572,"color":"#ffffff"},{"offset":0.576,"color":"#6e6e6e"},{"offset":0.58,"color":"#ffffff"},{"offset":0.592,"color":"#ffffff"},{"offset":0.596,"color":"#6e6e6e"},{"offset":0.6,"color":"#ffffff"},{"offset":0.612,"color":"#ffffff"},{"offset":0.616,"color":"#6e6e6e"},{"offset":0.62,"color":"#ffffff"},{"offset":0.632,"color":"#ffffff"},{"offset":0.636,"color":"#6e6e6e"},{"offset":0.64,"color":"#ffffff"},{"offset":0.652,"color":"#ffffff"},{"offset":0.656,"color":"#6e6e6e"},{"offset":0.66,"color":"#ffffff"},{"offset":0.672,"color":"#ffffff"},{"offset":0.676,"color":"#6e6e6e"},{"offset":0.68,"color":"#ffffff"},{"offset":0.692,"color":"#ffffff"},{"offset":0.696,"color":"#6e6e6e"},{"offset":0.7,"color":"#ffffff"},{"offset":0.712,"color":"#ffffff"},{"offset":0.716,"color":"#6e6e6e"},{"offset":0.72,"color":"#ffffff"},{"offset":0.732,"color":"#ffffff"},{"offset":0.736,"color":"#6e6e6e"},{"offset":0.74,"color":"#ffffff"},{"offset":0.752,"color":"#ffffff"},{"offset":0.756,"color":"#6e6e6e"},{"offset":0.76,"color":"#ffffff"},{"offset":0.772,"color":"#ffffff"},{"offset":0.776,"color":"#6e6e6e"},{"offset":0.78,"color":"#ffffff"},{"offset":0.792,"color":"#ffffff"},{"offset":0.796,"color":"#6e6e6e"},{"offset":0.8,"color":"#ffffff"},{"offset":0.812,"color":"#ffffff"},{"offset":0.816,"color":"#6e6e6e"},{"offset":0.82,"color":"#ffffff"},{"offset":0.832,"color":"#ffffff"},{"offset":0.836,"color":"#6e6e6e"},{"offset":0.84,"color":"#ffffff"},{"offset":0.852,"color":"#ffffff"},{"offset":0.856,"color":"#6e6e6e"},{"offset":0.86,"color":"#ffffff"},{"offset":0.872,"color":"#ffffff"},{"offset":0.876,"color":"#6e6e6e"},{"offset":0.88,"color":"#ffffff"},{"offset":0.892,"color":"#ffffff"},{"offset":0.896,"color":"#6e6e6e"},{"offset":0.9,"color":"#ffffff"},{"offset":0.912,"color":"#ffffff"},{"offset":0.916,"color":"#6e6e6e"},{"offset":0.92,"color":"#ffffff"},{"offset":0.932,"color":"#ffffff"},{"offset":0.936,"color":"#6e6e6e"},{"offset":0.94,"color":"#ffffff"},{"offset":0.952,"color":"#ffffff"},{"offset":0.956,"color":"#6e6e6e"},{"offset":0.96,"color":"#ffffff"},{"offset":0.972,"color":"#ffffff"},{"offset":0.976,"color":"#6e6e6e"},{"offset":0.98,"color":"#ffffff"},{"offset":0.992,"color":"#ffffff"},{"offset":0.996,"color":"#6e6e6e"},{"offset":1,"color":"#ffffff"}]}},
          "encoding": {"y": {"field": "value", "type": "quantitative"}}
        },
        {
          "transform": [{"filter": "datum.gene === 'glmS'"}],
          "mark": {"type": "bar", "stroke": "#777", "strokeWidth": 1, "fill": {"gradient": "linear", "x1": 1, "y1": 0, "x2": 0.9266, "y2": 1.064, "stops": [{"offset":0,"color":"rgba(110,110,110,0)"},{"offset":0.012,"color":"rgba(110,110,110,0)"},{"offset":0.016,"color":"rgba(110,110,110,1)"},{"offset":0.02,"color":"rgba(110,110,110,0)"},{"offset":0.032,"color":"rgba(110,110,110,0)"},{"offset":0.036,"color":"rgba(110,110,110,1)"},{"offset":0.04,"color":"rgba(110,110,110,0)"},{"offset":0.052,"color":"rgba(110,110,110,0)"},{"offset":0.056,"color":"rgba(110,110,110,1)"},{"offset":0.06,"color":"rgba(110,110,110,0)"},{"offset":0.072,"color":"rgba(110,110,110,0)"},{"offset":0.076,"color":"rgba(110,110,110,1)"},{"offset":0.08,"color":"rgba(110,110,110,0)"},{"offset":0.092,"color":"rgba(110,110,110,0)"},{"offset":0.096,"color":"rgba(110,110,110,1)"},{"offset":0.1,"color":"rgba(110,110,110,0)"},{"offset":0.112,"color":"rgba(110,110,110,0)"},{"offset":0.116,"color":"rgba(110,110,110,1)"},{"offset":0.12,"color":"rgba(110,110,110,0)"},{"offset":0.132,"color":"rgba(110,110,110,0)"},{"offset":0.136,"color":"rgba(110,110,110,1)"},{"offset":0.14,"color":"rgba(110,110,110,0)"},{"offset":0.152,"color":"rgba(110,110,110,0)"},{"offset":0.156,"color":"rgba(110,110,110,1)"},{"offset":0.16,"color":"rgba(110,110,110,0)"},{"offset":0.172,"color":"rgba(110,110,110,0)"},{"offset":0.176,"color":"rgba(110,110,110,1)"},{"offset":0.18,"color":"rgba(110,110,110,0)"},{"offset":0.192,"color":"rgba(110,110,110,0)"},{"offset":0.196,"color":"rgba(110,110,110,1)"},{"offset":0.2,"color":"rgba(110,110,110,0)"},{"offset":0.212,"color":"rgba(110,110,110,0)"},{"offset":0.216,"color":"rgba(110,110,110,1)"},{"offset":0.22,"color":"rgba(110,110,110,0)"},{"offset":0.232,"color":"rgba(110,110,110,0)"},{"offset":0.236,"color":"rgba(110,110,110,1)"},{"offset":0.24,"color":"rgba(110,110,110,0)"},{"offset":0.252,"color":"rgba(110,110,110,0)"},{"offset":0.256,"color":"rgba(110,110,110,1)"},{"offset":0.26,"color":"rgba(110,110,110,0)"},{"offset":0.272,"color":"rgba(110,110,110,0)"},{"offset":0.276,"color":"rgba(110,110,110,1)"},{"offset":0.28,"color":"rgba(110,110,110,0)"},{"offset":0.292,"color":"rgba(110,110,110,0)"},{"offset":0.296,"color":"rgba(110,110,110,1)"},{"offset":0.3,"color":"rgba(110,110,110,0)"},{"offset":0.312,"color":"rgba(110,110,110,0)"},{"offset":0.316,"color":"rgba(110,110,110,1)"},{"offset":0.32,"color":"rgba(110,110,110,0)"},{"offset":0.332,"color":"rgba(110,110,110,0)"},{"offset":0.336,"color":"rgba(110,110,110,1)"},{"offset":0.34,"color":"rgba(110,110,110,0)"},{"offset":0.352,"color":"rgba(110,110,110,0)"},{"offset":0.356,"color":"rgba(110,110,110,1)"},{"offset":0.36,"color":"rgba(110,110,110,0)"},{"offset":0.372,"color":"rgba(110,110,110,0)"},{"offset":0.376,"color":"rgba(110,110,110,1)"},{"offset":0.38,"color":"rgba(110,110,110,0)"},{"offset":0.392,"color":"rgba(110,110,110,0)"},{"offset":0.396,"color":"rgba(110,110,110,1)"},{"offset":0.4,"color":"rgba(110,110,110,0)"},{"offset":0.412,"color":"rgba(110,110,110,0)"},{"offset":0.416,"color":"rgba(110,110,110,1)"},{"offset":0.42,"color":"rgba(110,110,110,0)"},{"offset":0.432,"color":"rgba(110,110,110,0)"},{"offset":0.436,"color":"rgba(110,110,110,1)"},{"offset":0.44,"color":"rgba(110,110,110,0)"},{"offset":0.452,"color":"rgba(110,110,110,0)"},{"offset":0.456,"color":"rgba(110,110,110,1)"},{"offset":0.46,"color":"rgba(110,110,110,0)"},{"offset":0.472,"color":"rgba(110,110,110,0)"},{"offset":0.476,"color":"rgba(110,110,110,1)"},{"offset":0.48,"color":"rgba(110,110,110,0)"},{"offset":0.492,"color":"rgba(110,110,110,0)"},{"offset":0.496,"color":"rgba(110,110,110,1)"},{"offset":0.5,"color":"rgba(110,110,110,0)"},{"offset":0.512,"color":"rgba(110,110,110,0)"},{"offset":0.516,"color":"rgba(110,110,110,1)"},{"offset":0.52,"color":"rgba(110,110,110,0)"},{"offset":0.532,"color":"rgba(110,110,110,0)"},{"offset":0.536,"color":"rgba(110,110,110,1)"},{"offset":0.54,"color":"rgba(110,110,110,0)"},{"offset":0.552,"color":"rgba(110,110,110,0)"},{"offset":0.556,"color":"rgba(110,110,110,1)"},{"offset":0.56,"color":"rgba(110,110,110,0)"},{"offset":0.572,"color":"rgba(110,110,110,0)"},{"offset":0.576,"color":"rgba(110,110,110,1)"},{"offset":0.58,"color":"rgba(110,110,110,0)"},{"offset":0.592,"color":"rgba(110,110,110,0)"},{"offset":0.596,"color":"rgba(110,110,110,1)"},{"offset":0.6,"color":"rgba(110,110,110,0)"},{"offset":0.612,"color":"rgba(110,110,110,0)"},{"offset":0.616,"color":"rgba(110,110,110,1)"},{"offset":0.62,"color":"rgba(110,110,110,0)"},{"offset":0.632,"color":"rgba(110,110,110,0)"},{"offset":0.636,"color":"rgba(110,110,110,1)"},{"offset":0.64,"color":"rgba(110,110,110,0)"},{"offset":0.652,"color":"rgba(110,110,110,0)"},{"offset":0.656,"color":"rgba(110,110,110,1)"},{"offset":0.66,"color":"rgba(110,110,110,0)"},{"offset":0.672,"color":"rgba(110,110,110,0)"},{"offset":0.676,"color":"rgba(110,110,110,1)"},{"offset":0.68,"color":"rgba(110,110,110,0)"},{"offset":0.692,"color":"rgba(110,110,110,0)"},{"offset":0.696,"color":"rgba(110,110,110,1)"},{"offset":0.7,"color":"rgba(110,110,110,0)"},{"offset":0.712,"color":"rgba(110,110,110,0)"},{"offset":0.716,"color":"rgba(110,110,110,1)"},{"offset":0.72,"color":"rgba(110,110,110,0)"},{"offset":0.732,"color":"rgba(110,110,110,0)"},{"offset":0.736,"color":"rgba(110,110,110,1)"},{"offset":0.74,"color":"rgba(110,110,110,0)"},{"offset":0.752,"color":"rgba(110,110,110,0)"},{"offset":0.756,"color":"rgba(110,110,110,1)"},{"offset":0.76,"color":"rgba(110,110,110,0)"},{"offset":0.772,"color":"rgba(110,110,110,0)"},{"offset":0.776,"color":"rgba(110,110,110,1)"},{"offset":0.78,"color":"rgba(110,110,110,0)"},{"offset":0.792,"color":"rgba(110,110,110,0)"},{"offset":0.796,"color":"rgba(110,110,110,1)"},{"offset":0.8,"color":"rgba(110,110,110,0)"},{"offset":0.812,"color":"rgba(110,110,110,0)"},{"offset":0.816,"color":"rgba(110,110,110,1)"},{"offset":0.82,"color":"rgba(110,110,110,0)"},{"offset":0.832,"color":"rgba(110,110,110,0)"},{"offset":0.836,"color":"rgba(110,110,110,1)"},{"offset":0.84,"color":"rgba(110,110,110,0)"},{"offset":0.852,"color":"rgba(110,110,110,0)"},{"offset":0.856,"color":"rgba(110,110,110,1)"},{"offset":0.86,"color":"rgba(110,110,110,0)"},{"offset":0.872,"color":"rgba(110,110,110,0)"},{"offset":0.876,"color":"rgba(110,110,110,1)"},{"offset":0.88,"color":"rgba(110,110,110,0)"},{"offset":0.892,"color":"rgba(110,110,110,0)"},{"offset":0.896,"color":"rgba(110,110,110,1)"},{"offset":0.9,"color":"rgba(110,110,110,0)"},{"offset":0.912,"color":"rgba(110,110,110,0)"},{"offset":0.916,"color":"rgba(110,110,110,1)"},{"offset":0.92,"color":"rgba(110,110,110,0)"},{"offset":0.932,"color":"rgba(110,110,110,0)"},{"offset":0.936,"color":"rgba(110,110,110,1)"},{"offset":0.94,"color":"rgba(110,110,110,0)"},{"offset":0.952,"color":"rgba(110,110,110,0)"},{"offset":0.956,"color":"rgba(110,110,110,1)"},{"offset":0.96,"color":"rgba(110,110,110,0)"},{"offset":0.972,"color":"rgba(110,110,110,0)"},{"offset":0.976,"color":"rgba(110,110,110,1)"},{"offset":0.98,"color":"rgba(110,110,110,0)"},{"offset":0.992,"color":"rgba(110,110,110,0)"},{"offset":0.996,"color":"rgba(110,110,110,1)"},{"offset":1,"color":"rgba(110,110,110,0)"}]}},
          "encoding": {"y": {"field": "value", "type": "quantitative"}}
        },
        {
          "mark": {"type": "rule", "color": "#777", "strokeWidth": 1},
          "encoding": {"y": {"field": "lo", "type": "quantitative"}, "y2": {"field": "hi"}}
        },
        {
          "mark": {"type": "tick", "color": "#777", "size": 8, "thickness": 1},
          "encoding": {"y": {"field": "lo", "type": "quantitative"}}
        },
        {
          "mark": {"type": "tick", "color": "#777", "size": 8, "thickness": 1},
          "encoding": {"y": {"field": "hi", "type": "quantitative"}}
        },
        {
          "data": {"name": "labels"},
          "mark": {"type": "text", "font": "Liberation Sans", "fontSize": 14, "fontStyle": "italic", "align": "right", "baseline": "alphabetic", "dy": -7, "dx": -13, "color": "#222"},
          "encoding": {"x": {"field": "group", "type": "nominal"}, "xOffset": null, "y": {"datum": 0, "type": "quantitative"}, "text": {"field": "genus"}}
        },
        {
          "data": {"name": "labels"},
          "mark": {"type": "text", "font": "Liberation Sans", "fontSize": 14, "align": "center", "baseline": "alphabetic", "dy": -7, "dx": 1, "color": "#222"},
          "encoding": {"x": {"field": "group", "type": "nominal"}, "xOffset": null, "y": {"datum": 0, "type": "quantitative"}, "text": {"field": "pv"}}
        },
        {
          "data": {"name": "labels"},
          "mark": {"type": "text", "font": "Liberation Sans", "fontSize": 14, "fontStyle": "italic", "align": "left", "baseline": "alphabetic", "dy": -7, "dx": 15, "color": "#222"},
          "encoding": {"x": {"field": "group", "type": "nominal"}, "xOffset": null, "y": {"datum": 0, "type": "quantitative"}, "text": {"field": "species"}}
        }
      ]
    }
  ]
}
